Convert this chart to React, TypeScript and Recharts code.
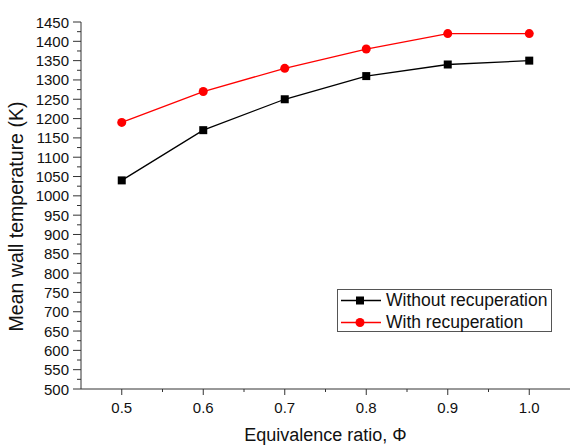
import React from 'react';
import { LineChart, Line, XAxis, YAxis, Legend } from 'recharts';

const phi = [0.5, 0.6, 0.7, 0.8, 0.9, 1.0];
const withoutRecuperation = [1040, 1170, 1250, 1310, 1340, 1350];
const withRecuperation = [1190, 1270, 1330, 1380, 1420, 1420];

const xMajorTicks = [0.5, 0.6, 0.7, 0.8, 0.9, 1.0];
const xMinorTicks = [0.55, 0.65, 0.75, 0.85, 0.95];
const yMajorTicks = [500, 550, 600, 650, 700, 750, 800, 850, 900, 950, 1000, 1050, 1100, 1150, 1200, 1250, 1300, 1350, 1400, 1450];
const yMinorTicks = [525, 575, 625, 675, 725, 775, 825, 875, 925, 975, 1025, 1075, 1125, 1175, 1225, 1275, 1325, 1375, 1425];

const seriesNames = ['Without recuperation', 'With recuperation'];
const seriesKeys = ['without', 'with'];
const seriesColors = ['#000000', '#ff0000'];

const data = phi.map((p, i) => ({ phi: p, without: withoutRecuperation[i], with: withRecuperation[i] }));
const xTicks = [...xMajorTicks, ...xMinorTicks].sort((a, b) => a - b);
const yTicks = [...yMajorTicks, ...yMinorTicks].sort((a, b) => a - b);

const FONT = "'Liberation Sans', Arial, sans-serif";
const AXIS = '#333333';

const isIn = (arr: number[], v: number) => arr.some((t) => Math.abs(t - v) < 1e-6);

const XTick = (props: any) => {
  const { x, y, payload } = props;
  const v = payload.value as number;
  const major = isIn(xMajorTicks, v);
  return (
    <g>
      <line x1={x} x2={x} y1={y} y2={y + (major ? 6 : 3)} stroke={AXIS} strokeWidth={1} />
      {major && (
        <text x={x} y={y + 24} textAnchor="middle" fontSize={15} fill="#111" fontFamily={FONT}>
          {v.toFixed(1)}
        </text>
      )}
    </g>
  );
};

const YTick = (props: any) => {
  const { x, y, payload } = props;
  const v = payload.value as number;
  const major = isIn(yMajorTicks, v);
  return (
    <g>
      <line x1={x - (major ? 8 : 4)} x2={x} y1={y} y2={y} stroke={AXIS} strokeWidth={1} />
      {major && (
        <text x={x - 12} y={y + 5.5} textAnchor="end" fontSize={15} fill="#111" fontFamily={FONT}>
          {v}
        </text>
      )}
    </g>
  );
};

const SquareDot = (props: any) => {
  const { cx, cy, index } = props;
  if (cx == null || cy == null) return <g key={index} />;
  return <rect key={index} x={cx - 4} y={cy - 4} width={8} height={8} fill="#000" />;
};

const LegendContent = () => (
  <div
    style={{
      width: 215,
      height: 43,
      boxSizing: 'border-box',
      border: '1px solid #555',
      background: '#fff',
      fontFamily: FONT,
      fontSize: 17.5,
      color: '#111',
      paddingTop: 0,
    }}
  >
    {seriesNames.map((name, i) => (
      <div key={name} style={{ display: 'flex', alignItems: 'center', height: 21.5 }}>
        <svg width={48} height={21} style={{ display: 'block' }}>
          <line x1={3} x2={43} y1={10.5} y2={10.5} stroke={seriesColors[i]} strokeWidth={1.3} />
          {i === 0 ? (
            <rect x={18} y={6.5} width={8} height={8} fill={seriesColors[i]} />
          ) : (
            <circle cx={22} cy={10.5} r={4.5} fill={seriesColors[i]} />
          )}
        </svg>
        <span style={{ lineHeight: '21px', whiteSpace: 'nowrap' }}>{name}</span>
      </div>
    ))}
  </div>
);

export default function App() {
  return (
    <div style={{ position: 'absolute', left: 0, top: 0, width: 570, height: 445, background: '#fff' }}>
      <LineChart width={570} height={445} data={data} margin={{ top: 22, right: 0, bottom: 0, left: 0 }}>
        <XAxis
          dataKey="phi"
          type="number"
          domain={[0.45, 1.05]}
          ticks={xTicks}
          interval={0}
          height={56}
          tickSize={0}
          tickMargin={0}
          tickLine={false}
          tick={<XTick />}
          axisLine={{ stroke: AXIS, strokeWidth: 1 }}
          allowDataOverflow
          label={{
            value: 'Equivalence ratio, \u03A6',
            position: 'insideBottom',
            offset: 4,
            style: { fontSize: 18, fill: '#111', fontFamily: FONT },
          }}
        />
        <YAxis
          type="number"
          domain={[500, 1450]}
          ticks={yTicks}
          interval={0}
          width={81}
          tickSize={0}
          tickMargin={0}
          tickLine={false}
          tick={<YTick />}
          axisLine={{ stroke: AXIS, strokeWidth: 1 }}
          allowDataOverflow
          label={{
            value: 'Mean wall temperature (K)',
            angle: -90,
            position: 'insideLeft',
            offset: 16,
            dy: 11,
            style: { fontSize: 19.5, fill: '#111', fontFamily: FONT, textAnchor: 'middle' },
          }}
        />
        <Legend
          layout="vertical"
          align="center"
          verticalAlign="middle"
          content={<LegendContent />}
          wrapperStyle={{ position: 'absolute', left: 337, top: 289, width: 215, height: 43 }}
        />
        <Line
          type="linear"
          dataKey={seriesKeys[0]}
          name={seriesNames[0]}
          stroke={seriesColors[0]}
          strokeWidth={1.3}
          dot={<SquareDot />}
          activeDot={false}
          isAnimationActive={false}
        />
        <Line
          type="linear"
          dataKey={seriesKeys[1]}
          name={seriesNames[1]}
          stroke={seriesColors[1]}
          strokeWidth={1.3}
          dot={{ r: 4.5, fill: seriesColors[1], stroke: seriesColors[1], strokeWidth: 0 }}
          activeDot={false}
          isAnimationActive={false}
        />
      </LineChart>
    </div>
  );
}
